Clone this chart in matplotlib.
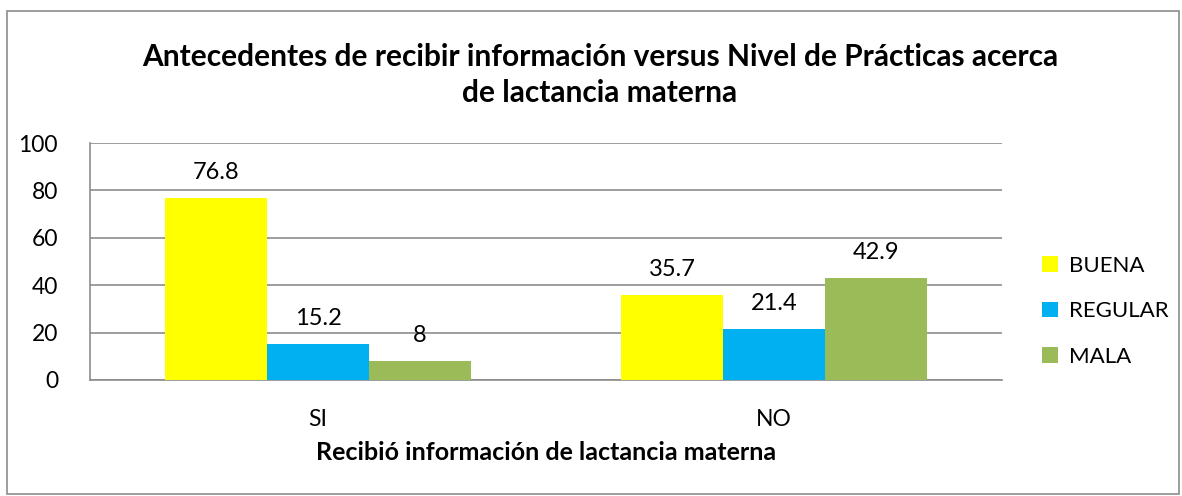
import numpy as np
import matplotlib

matplotlib.use('Agg')
import matplotlib.pyplot as plt
from matplotlib.patches import Rectangle

plt.rcParams['font.family'] = ['Lato', 'DejaVu Sans']

# datos
categorias = ['SI', 'NO']
series = ['BUENA', 'REGULAR', 'MALA']
buena = [76.8, 35.7]
regular = [15.2, 21.4]
mala = [8, 42.9]
etiquetas = [['76.8', '35.7'], ['15.2', '21.4'], ['8', '42.9']]
colores = ['#FFFF00', '#00B0F0', '#9BBB59']

fig = plt.figure(figsize=(11.82, 4.96), dpi=100)
ax = fig.add_axes([90 / 1182, 1 - 380 / 496, 912 / 1182, 237 / 496])

# borde exterior del grafico
fig.patches.append(Rectangle((7 / 1182, 2 / 496), 1172 / 1182, 483 / 496,
                             transform=fig.transFigure, fill=False,
                             edgecolor='#8C8C8C', linewidth=1.2))

x = np.arange(len(categorias))
ancho = 0.223
valores = [buena, regular, mala]
for i, (nombre, vals) in enumerate(zip(series, valores)):
    pos = x + (i - 1) * ancho
    ax.bar(pos, vals, width=ancho, color=colores[i], label=nombre, zorder=3)
    for p, v, t in zip(pos, vals, etiquetas[i]):
        ax.text(p, v + 6.5, t, ha='center', va='bottom', fontsize=17)

ax.set_xlim(-0.5, 1.5)
ax.set_ylim(0, 100)
ax.set_yticks(range(0, 101, 20))
ax.set_xticks(x)
ax.set_xticklabels(categorias)
ax.tick_params(axis='both', length=0, labelsize=16.5)
ax.tick_params(axis='y', pad=23)
ax.tick_params(axis='x', pad=21)
ax.grid(axis='y', color='#8C8C8C', linewidth=1.2, zorder=0)
for s in ['top', 'right']:
    ax.spines[s].set_visible(False)
for s in ['left', 'bottom']:
    ax.spines[s].set_color('#8C8C8C')
    ax.spines[s].set_linewidth(1.2)

ax.set_xlabel('Recibió información de lactancia materna', fontsize=18,
              fontweight='bold', labelpad=8)
fig.text(600 / 1182, 1 - 75 / 496,
         'Antecedentes de recibir información versus Nivel de Prácticas acerca\nde lactancia materna',
         ha='center', va='center', fontsize=21.5, fontweight='bold', linespacing=1.35)

ax.legend(loc='center left', bbox_to_anchor=(1.022, 0.29), frameon=False,
          fontsize=16, handlelength=0.7, handleheight=0.7, labelspacing=1.15,
          handletextpad=0.5)

plt.savefig('out.png', dpi=100)
